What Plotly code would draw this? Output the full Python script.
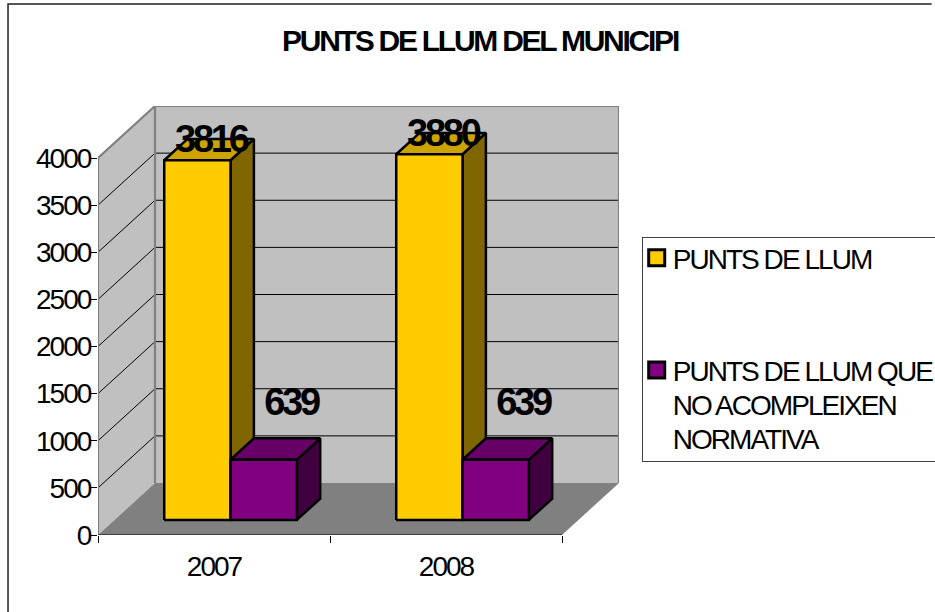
import plotly.graph_objects as go

years = ["2007", "2008"]
punts = [3816, 3880]
no_norma = [639, 639]
series_names = ["PUNTS DE LLUM", "PUNTS DE LLUM QUE<br>NO ACOMPLEIXEN<br>NORMATIVA"]
y_ticks = [0, 500, 1000, 1500, 2000, 2500, 3000, 3500, 4000]

FONT = "Liberation Sans"
PX_X = 232.0
PX_Y = 377.0 / 4000
DX = 57 / PX_X
DY = 52 / PX_Y
BAR_W = 66.3 / PX_X
D0, D1 = 0.29, 0.70
GRAY = "#808080"
X_TOP = -0.5 + 521 / PX_X
Y_TOP = 4000 + DY


def px(d, x, y):
    return x + d * DX, y + d * DY


def box(x0, x1, v, d0=D0, d1=D1):
    def p(x, y, d):
        return px(d, x, y)
    front = [p(x0, 0, d0), p(x1, 0, d0), p(x1, v, d0), p(x0, v, d0), p(x0, 0, d0)]
    side = [p(x1, 0, d0), p(x1, 0, d1), p(x1, v, d1), p(x1, v, d0), p(x1, 0, d0)]
    top = [p(x0, v, d0), p(x1, v, d0), p(x1, v, d1), p(x0, v, d1), p(x0, v, d0)]
    return front, side, top


fig = go.Figure()


def poly(pts, fill=None, line=None, width=0):
    fig.add_trace(go.Scatter(
        x=[a for a, _ in pts], y=[b for _, b in pts], mode="lines",
        fill="toself" if fill else "none", fillcolor=fill,
        line=dict(color=line or "rgba(0,0,0,0)", width=width),
        showlegend=False, hoverinfo="skip", cliponaxis=False))


# walls and floor
poly([(-0.5, 0), (-0.5, 4000), px(1, -0.5, 4000), px(1, -0.5, 0), (-0.5, 0)], "#C0C0C0")
poly([px(1, -0.5, 0), px(1, 1.5, 0), px(1, 1.5, 4000), px(1, -0.5, 4000), px(1, -0.5, 0)], "#C0C0C0")
poly([(-0.5, 0), (1.5, 0), px(1, 1.5, 0), px(1, -0.5, 0), (-0.5, 0)], GRAY)
for v in y_ticks[1:]:
    poly([(-0.5, v), px(1, -0.5, v), px(1, 1.5, v)], None, "#000000", 1)
poly([(-0.5, 0), (-0.5, 4000), px(1, -0.5, 4000), px(1, 1.5, 4000), px(1, 1.5, 0)], None, GRAY, 2.2)
poly([px(1, -0.5, 0), px(1, -0.5, 4000)], None, GRAY, 2.2)
poly([(-0.5, 0), (1.5, 0)], None, "#000000", 1.2)

# bars
styles = [("#FFCC00", "#806600", "#CCA300"), ("#800080", "#400040", "#660066")]
for i in range(len(years)):
    for s, vals in enumerate([punts, no_norma]):
        x0 = i - BAR_W + s * BAR_W
        x1 = x0 + BAR_W
        f, sd, t = box(x0, x1, vals[i])
        poly(sd, styles[s][1], "#000000", 2.5)
        poly(t, styles[s][2], "#000000", 2.5)
        poly(f, styles[s][0], "#000000", 2.5)

# data labels
for i in range(len(years)):
    for s, vals, xoff, yoff in [(0, punts, 0.058, 345), (1, no_norma, 0.118, 735)]:
        xc = i - BAR_W + (s + 0.5) * BAR_W + D0 * DX + xoff
        fig.add_trace(go.Scatter(
            x=[xc], y=[vals[i] + yoff], mode="text", text=[str(vals[i])],
            textposition="middle center", cliponaxis=False, showlegend=False, hoverinfo="skip",
            textfont=dict(family=FONT, size=38, color="#000000", weight=700)))

# legend entries
for nm, col in zip([series_names[0], " <br> <br>" + series_names[1]], ["#FFCC00", "#800080"]):
    fig.add_trace(go.Scatter(
        x=[None], y=[None], mode="markers", name=nm,
        marker=dict(symbol="square", size=16, color=col, line=dict(color="#000000", width=3))))

fig.update_layout(
    width=935, height=612,
    margin=dict(l=98, r=935 - 619, t=106, b=77, autoexpand=False),
    paper_bgcolor="#FFFFFF", plot_bgcolor="#FFFFFF",
    font=dict(family=FONT, size=28, color="#000000"),
    title=dict(text="PUNTS DE LLUM DEL MUNICIPI", x=480 / 935, xref="container", xanchor="center",
               y=1 - 40 / 612, yref="container", yanchor="middle",
               font=dict(family=FONT, size=30, weight=700, color="#000000")),
    xaxis=dict(range=[-0.5, X_TOP], tickmode="array", tickvals=[0, 1], ticktext=years,
               ticks="", showgrid=False, zeroline=False, showline=False, ticklabelstandoff=12,
               minor=dict(tickmode="array", tickvals=[-0.5, 0.5, 1.5], ticks="outside", ticklen=7,
                          tickcolor="#000000", tickwidth=1, showgrid=False)),
    yaxis=dict(range=[0, Y_TOP], tickmode="array", tickvals=y_ticks, ticks="outside", ticklen=6,
               tickcolor="#000000", tickwidth=1, showgrid=False, zeroline=False, showline=False,
               ticklabelstandoff=-5),
    legend=dict(x=(641.7 - 98) / 521, xanchor="left", y=(535 - 237) / 429, yanchor="top",
                bordercolor="#404040", borderwidth=1, bgcolor="#FFFFFF", tracegroupgap=0,
                font=dict(family=FONT, size=28, color="#000000")),
    shapes=[dict(type="path", xref="paper", yref="paper",
                 path="M -0.1727 -0.2 L -0.1727 1.2378 L 1.6 1.2378",
                 line=dict(color="#202020", width=1.5))],
)

post = """
document.body.style.margin = '0';
document.body.style.overflow = 'hidden';
var gd = document.getElementById('{plot_id}');
gd.querySelectorAll('text').forEach(function (t) {
  var bold = /bold|700/.test(t.style.fontWeight);
  var big = parseFloat(t.style.fontSize) > 35;
  t.style.letterSpacing = big ? '-0.085em' : (bold ? '-0.075em' : '-0.07em');
});
gd.querySelectorAll('.legendtext').forEach(function (t) {
  var all = Array.from(t.querySelectorAll('.line'));
  var lines = all.filter(function (l) { return l.textContent.trim().length > 0; });
  if (lines.length > 1) {
    var first = parseFloat(lines[0].getAttribute('dy')) * 28;
    lines.forEach(function (l, i) { l.setAttribute('dy', (first + i * 34) + 'px'); });
  }
  if (all.length) {
    all.forEach(function (l) { l.setAttribute('x', parseFloat(l.getAttribute('x')) - 10); });
  } else {
    t.setAttribute('x', parseFloat(t.getAttribute('x')) - 10);
  }
});
gd.querySelectorAll('.legend .legendsymbols').forEach(function (g) {
  g.setAttribute('transform', 'translate(-6,0)');
});
var bg = gd.querySelector('.legend rect.bg');
if (bg) { bg.setAttribute('height', 224); }
gd.querySelectorAll('.legend .traces').forEach(function (g) {
  var tr = g.getAttribute('transform');
  var m = /translate\\(([-\\d.]+),\\s*([-\\d.]+)\\)/.exec(tr);
  if (m) { g.setAttribute('transform', 'translate(' + m[1] + ',' + (parseFloat(m[2]) - 5) + ')'); }
});
"""
fig.write_html("out.html", post_script=post, config={"displayModeBar": False})
